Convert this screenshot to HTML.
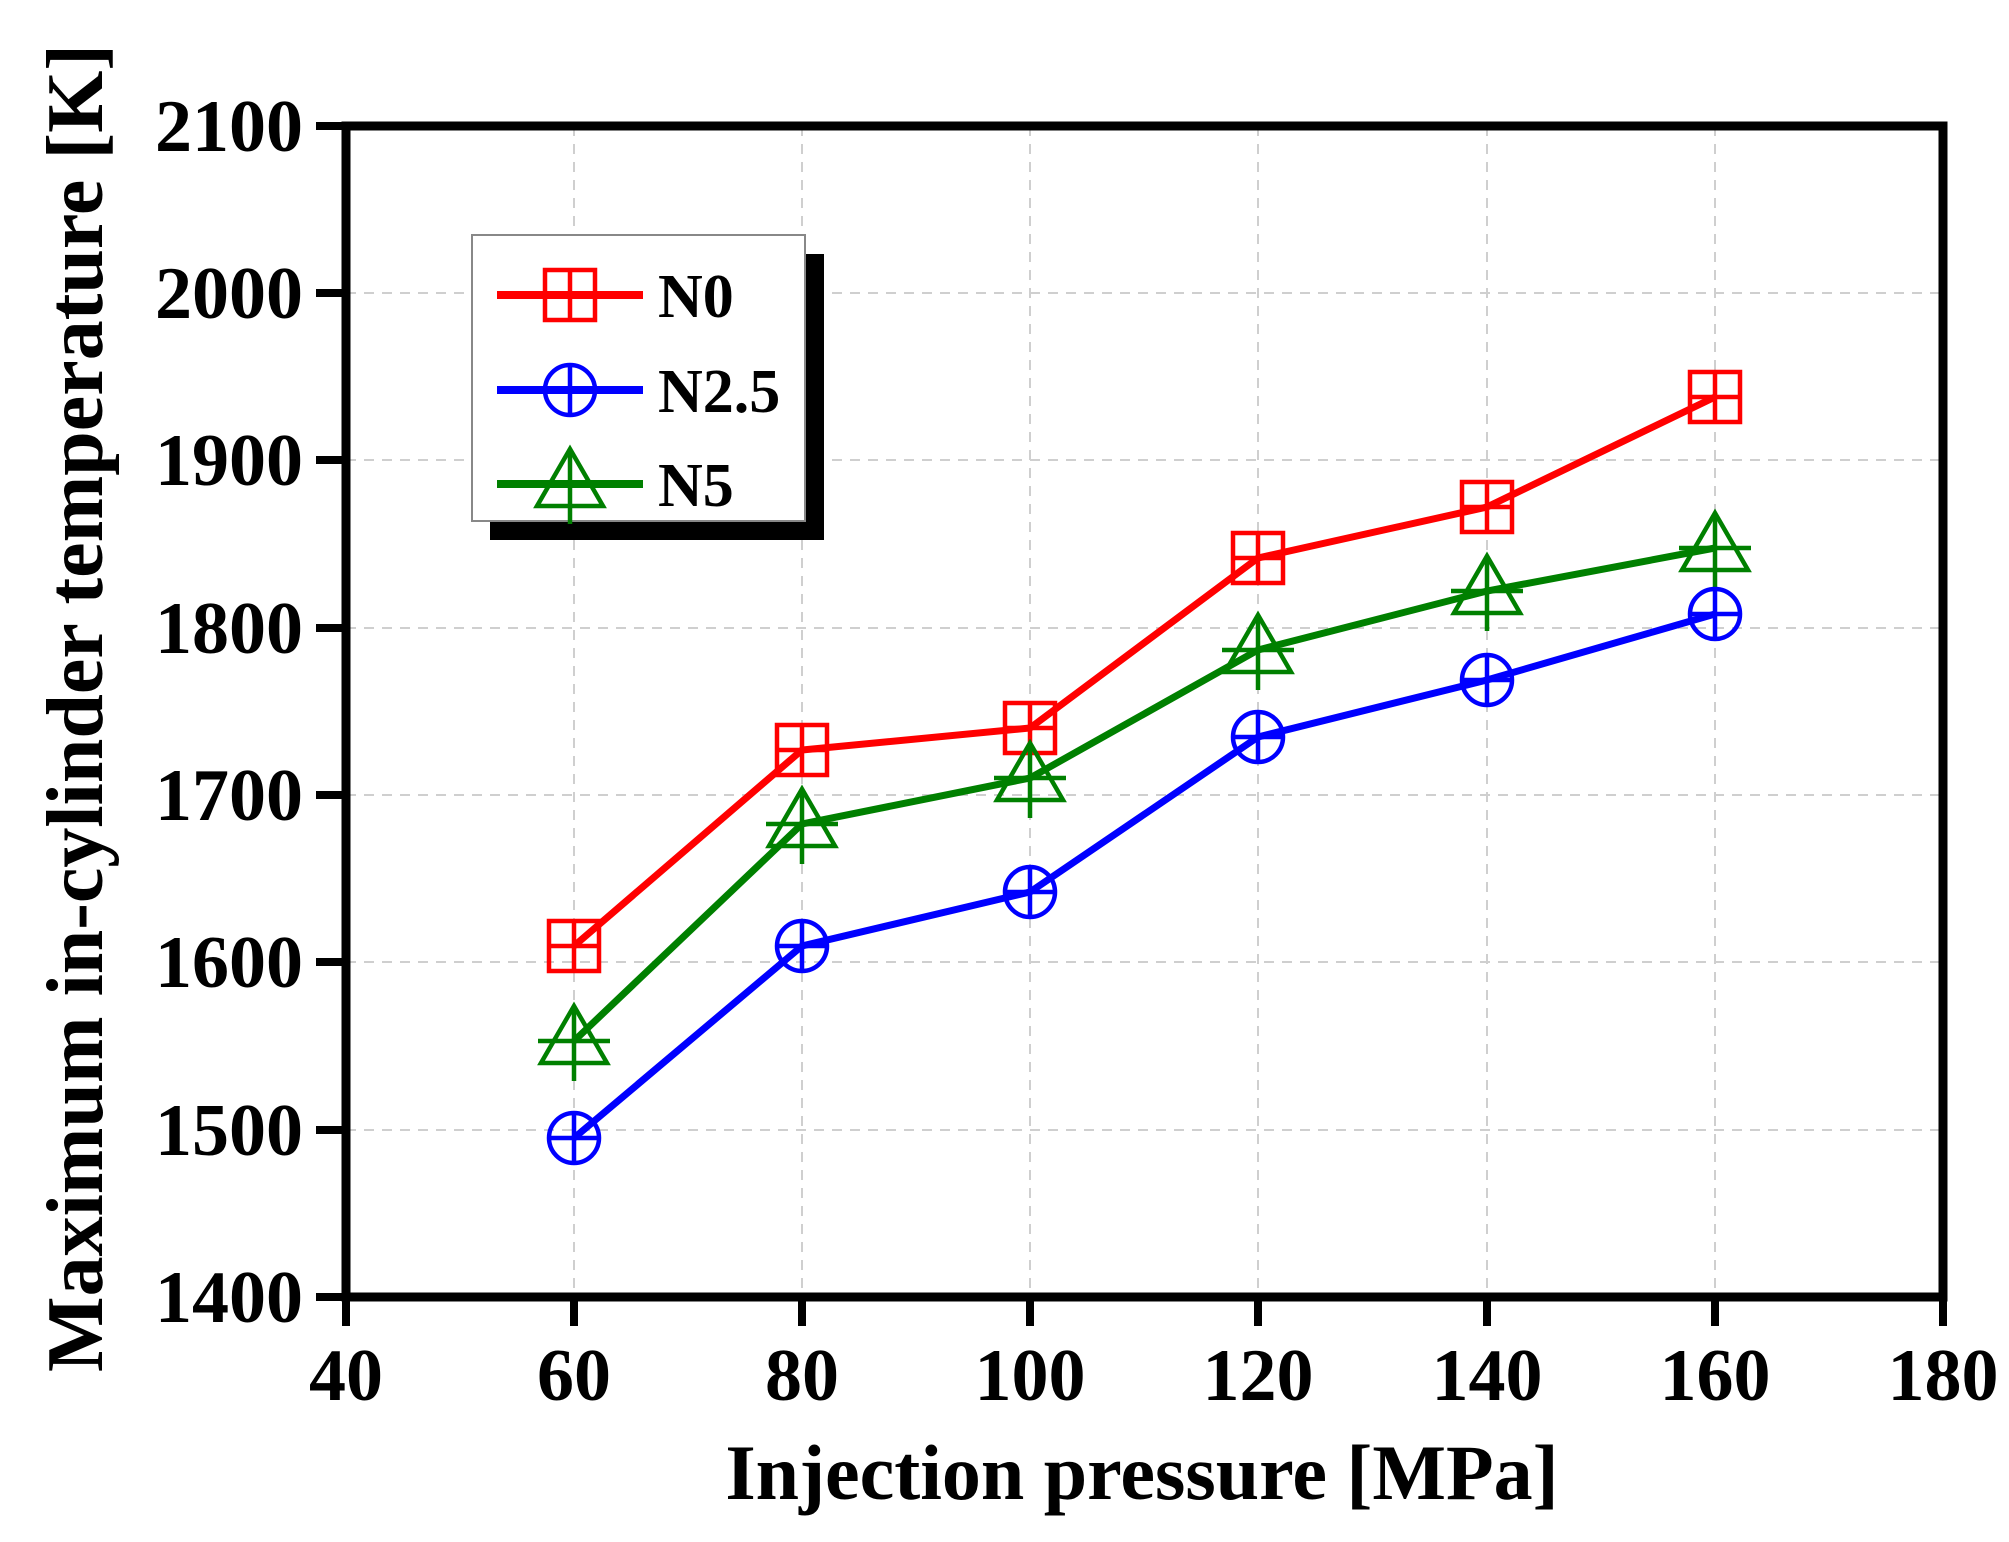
<!DOCTYPE html>
<html><head><meta charset="utf-8"><style>
html,body{margin:0;padding:0;background:#fff;}
svg{display:block;}
text{font-family:"Liberation Serif",serif;font-weight:bold;fill:#000;}
</style></head><body>
<svg width="2009" height="1542" viewBox="0 0 2009 1542" xmlns="http://www.w3.org/2000/svg">
<defs>
<g id="sq" fill="none" stroke-width="4.5"><rect x="-25" y="-25" width="50" height="50"/><line x1="0" y1="-25" x2="0" y2="25"/><line x1="-25" y1="0" x2="25" y2="0"/></g>
<g id="ci" fill="none" stroke-width="4.5"><circle r="25"/><line x1="0" y1="-25" x2="0" y2="25"/><line x1="-25" y1="0" x2="25" y2="0"/></g>
<g id="tr" fill="none" stroke-width="4.5"><polygon points="0,-35 33,22 -33,22"/><line x1="0" y1="-35" x2="0" y2="40"/><line x1="-36" y1="0" x2="36" y2="0"/></g>
</defs>
<g stroke="#cfcfcf" stroke-width="2" stroke-dasharray="10,8">
<line x1="346" y1="1130" x2="1943" y2="1130"/><line x1="346" y1="962" x2="1943" y2="962"/><line x1="346" y1="795" x2="1943" y2="795"/><line x1="346" y1="628" x2="1943" y2="628"/><line x1="346" y1="460" x2="1943" y2="460"/><line x1="346" y1="293" x2="1943" y2="293"/>
<line x1="574" y1="126" x2="574" y2="1297"/><line x1="802" y1="126" x2="802" y2="1297"/><line x1="1030" y1="126" x2="1030" y2="1297"/><line x1="1258" y1="126" x2="1258" y2="1297"/><line x1="1487" y1="126" x2="1487" y2="1297"/><line x1="1715" y1="126" x2="1715" y2="1297"/>
</g>
<rect x="346" y="126" width="1597" height="1171" fill="none" stroke="#000" stroke-width="9"/>
<g stroke="#000" stroke-width="8">
<line x1="316" y1="126" x2="346" y2="126"/><line x1="316" y1="293" x2="346" y2="293"/><line x1="316" y1="460" x2="346" y2="460"/><line x1="316" y1="628" x2="346" y2="628"/><line x1="316" y1="795" x2="346" y2="795"/><line x1="316" y1="962" x2="346" y2="962"/><line x1="316" y1="1130" x2="346" y2="1130"/><line x1="316" y1="1297" x2="346" y2="1297"/>
<line x1="346" y1="1297" x2="346" y2="1326"/><line x1="574" y1="1297" x2="574" y2="1326"/><line x1="802" y1="1297" x2="802" y2="1326"/><line x1="1030" y1="1297" x2="1030" y2="1326"/><line x1="1258" y1="1297" x2="1258" y2="1326"/><line x1="1487" y1="1297" x2="1487" y2="1326"/><line x1="1715" y1="1297" x2="1715" y2="1326"/><line x1="1943" y1="1297" x2="1943" y2="1326"/>
</g>
<g font-size="74" text-anchor="end">
<text x="303" y="151">2100</text><text x="303" y="318">2000</text><text x="303" y="485">1900</text><text x="303" y="653">1800</text><text x="303" y="820">1700</text><text x="303" y="987">1600</text><text x="303" y="1155">1500</text><text x="303" y="1322">1400</text>
</g>
<g font-size="74" text-anchor="middle">
<text x="346" y="1400">40</text><text x="574" y="1400">60</text><text x="802" y="1400">80</text><text x="1030" y="1400">100</text><text x="1258" y="1400">120</text><text x="1487" y="1400">140</text><text x="1715" y="1400">160</text><text x="1943" y="1400">180</text>
</g>
<text x="1142" y="1499" font-size="78" text-anchor="middle">Injection pressure [MPa]</text>
<text transform="translate(102,708) rotate(-90)" font-size="80" text-anchor="middle">Maximum in-cylinder temperature [K]</text>
<polyline points="574,946 802,750 1030,728 1258,558 1487,507 1715,397" fill="none" stroke="#ff0000" stroke-width="7"/>
<polyline points="574,1041 802,824 1030,778 1258,650 1487,591 1715,548" fill="none" stroke="#008000" stroke-width="7"/>
<polyline points="574,1138 802,946 1030,892 1258,737 1487,680 1715,614" fill="none" stroke="#0000ff" stroke-width="7"/>
<g stroke="#ff0000"><use href="#sq" x="574" y="946"/><use href="#sq" x="802" y="750"/><use href="#sq" x="1030" y="728"/><use href="#sq" x="1258" y="558"/><use href="#sq" x="1487" y="507"/><use href="#sq" x="1715" y="397"/></g>
<g stroke="#008000"><use href="#tr" x="574" y="1041"/><use href="#tr" x="802" y="824"/><use href="#tr" x="1030" y="778"/><use href="#tr" x="1258" y="650"/><use href="#tr" x="1487" y="591"/><use href="#tr" x="1715" y="548"/></g>
<g stroke="#0000ff"><use href="#ci" x="574" y="1138"/><use href="#ci" x="802" y="946"/><use href="#ci" x="1030" y="892"/><use href="#ci" x="1258" y="737"/><use href="#ci" x="1487" y="680"/><use href="#ci" x="1715" y="614"/></g>
<rect x="490" y="254" width="334" height="286" fill="#000"/>
<rect x="472" y="235" width="333" height="286" fill="#fff" stroke="#888" stroke-width="2"/>
<line x1="497" y1="295" x2="643" y2="295" stroke="#ff0000" stroke-width="8"/>
<use href="#sq" x="570" y="295" stroke="#ff0000"/>
<line x1="497" y1="390" x2="643" y2="390" stroke="#0000ff" stroke-width="8"/>
<use href="#ci" x="570" y="390" stroke="#0000ff"/>
<line x1="497" y1="484" x2="643" y2="484" stroke="#008000" stroke-width="8"/>
<use href="#tr" x="570" y="484" stroke="#008000"/>
<g font-size="62"><text x="658" y="317">N0</text><text x="658" y="412">N2.5</text><text x="658" y="506">N5</text></g>
</svg>
</body></html>
